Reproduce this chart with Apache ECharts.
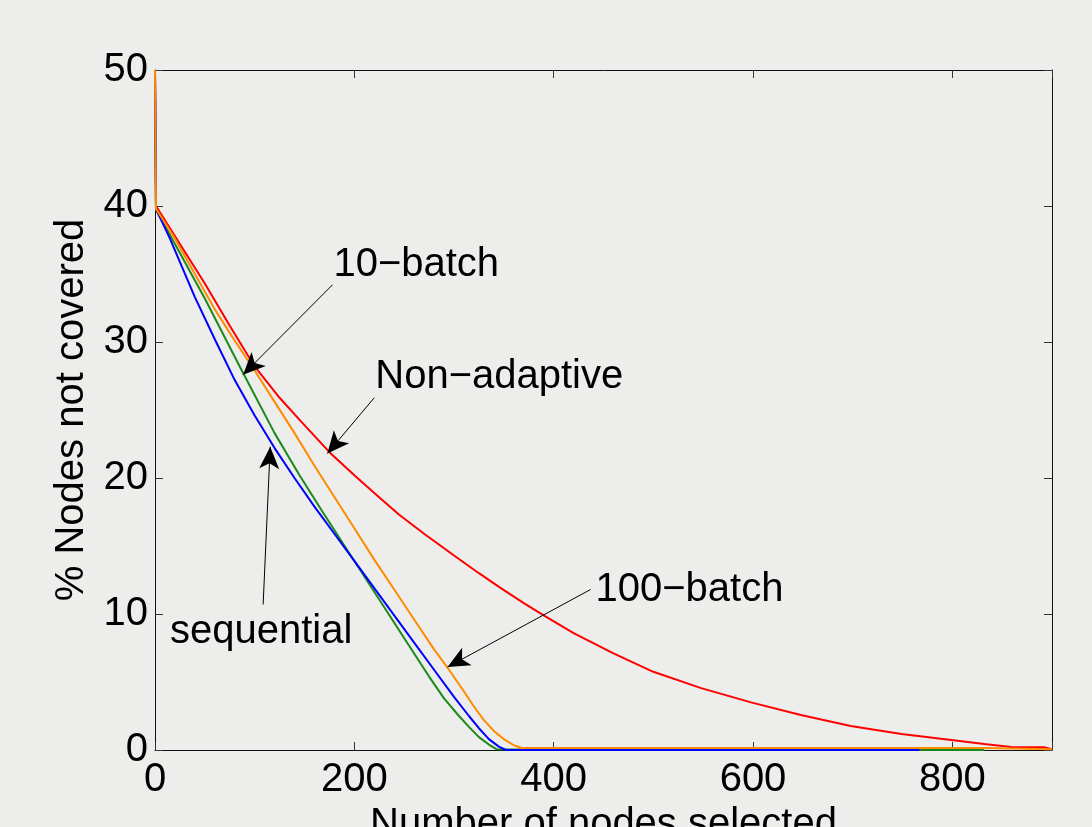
<!DOCTYPE html>
<html><head><meta charset="utf-8">
<script src="https://cdn.jsdelivr.net/npm/echarts@6/dist/echarts.min.js"></script>
<style>html,body{margin:0;padding:0;background:#ededeb}#c{width:1092px;height:827px}</style>
</head><body><div id="c"></div>
<script>
// ---- Data (x = number of nodes selected, y = % nodes not covered) ----
const xAxisTitle = 'Number of nodes selected';
const yAxisTitle = '% Nodes not covered';
const xTickLabels = [0, 200, 400, 600, 800];
const yTickLabels = [0, 10, 20, 30, 40, 50];

const nonAdaptiveData = [[0,50],[1,40],[25,37.2],[50,34.3],[75,31.2],[100,28.2],[125,25.9],[146,24.2],[175,21.9],[200,20.2],[220,18.9],[245,17.3],[270,15.9],[300,14.3],[325,13.0],[347,11.9],[370,10.8],[390,9.9],[420,8.6],[460,7.1],[500,5.75],[548,4.55],[598,3.5],[648,2.57],[698,1.76],[749,1.18],[799,0.74],[832,0.44],[859,0.22],[892,0.2],[900,0.05]];
const sequentialData = [[0,50],[1,39.8],[15,37.6],[40,33.3],[60,30.2],[80,27.2],[100,24.6],[120,22.2],[140,20.0],[160,17.9],[180,15.9],[200,13.9],[220,11.9],[240,9.9],[260,7.9],[280,5.9],[300,3.9],[315,2.5],[325,1.6],[335,0.8],[345,0.25],[352,0],[767,0]];
const batch10Data = [[0,50],[1,39.7],[20,37.2],[50,33.2],[85,28.2],[120,23.3],[145,20.2],[170,17.3],[200,13.9],[230,10.5],[260,7.1],[275,5.4],[290,3.8],[305,2.5],[315,1.7],[325,0.95],[335,0.4],[343,0.05],[345,0],[832,0]];
const batch100Data = [[0,50],[1,39.8],[20,37.6],[40,35.0],[60,32.4],[80,30.1],[100,27.9],[120,25.6],[140,23.3],[160,20.9],[180,18.6],[200,16.3],[220,14.0],[240,11.8],[260,9.6],[280,7.4],[295,5.9],[310,4.3],[320,3.2],[330,2.2],[340,1.4],[350,0.8],[360,0.35],[368,0.15],[832,0.15],[834,0.05],[900,0.05]];

// annotation texts: [x, y, text] (text left edge, vertical middle)
const annotationTexts = [[179,35.7,'10\u2212batch'],[221,27.4,'Non\u2212adaptive'],[15,8.7,'sequential'],[442,11.8,'100\u2212batch']];
// annotation arrows: [fromX, fromY, toX, toY]
const annotationArrows = [[178,34.2,88.4,27.6],[220,25.9,172.9,21.8],[108.5,10.7,115.6,22.3],[437,11.8,293.5,6.1]];

// ---- Chart ----
const FONT = 'Liberation Sans';
const chart = echarts.init(document.getElementById('c'), null, {renderer:'canvas'});
const axisCommon = {
  type:'value', axisLine:{show:true, onZero:false, lineStyle:{color:'#111', width:1}},
  axisTick:{show:true, inside:true, length:8, lineStyle:{color:'#333', width:1}},
  splitLine:{show:false}
};
const lineSeries = (name, data, color) => ({
  name, type:'line', data, symbol:'none', showSymbol:false, animation:false,
  lineStyle:{color, width:2}, itemStyle:{color}, z:3
});
const textLabel = {color:'#000', opacity:1, fontFamily:FONT, fontSize:40, lineHeight:40, textBorderWidth:0};
chart.setOption({
  backgroundColor:'#ededeb',
  animation:false,
  textStyle:{fontFamily:FONT},
  grid:{left:155, top:70, right:40, bottom:77, containLabel:false, outerBoundsMode:'none'},
  xAxis:[
    Object.assign({}, axisCommon, {position:'bottom', min:0, max:900, interval:200,
      axisLabel:Object.assign({show:true, inside:false, margin:10,
        formatter:v => xTickLabels.includes(v) ? String(v) : ''}, textLabel),
      name:xAxisTitle, nameLocation:'middle', nameGap:53,
      nameTextStyle:textLabel}),
    Object.assign({}, axisCommon, {position:'top', min:0, max:900, interval:200, axisLabel:{show:false}})
  ],
  yAxis:[
    Object.assign({}, axisCommon, {position:'left', min:0, max:50, interval:10,
      axisLabel:Object.assign({show:true, margin:7,
        formatter:v => yTickLabels.includes(v) ? String(v) : ''}, textLabel),
      name:yAxisTitle, nameLocation:'middle', nameGap:63, nameRotate:90,
      nameTextStyle:textLabel}),
    Object.assign({}, axisCommon, {position:'right', min:0, max:50, interval:10, axisLabel:{show:false}})
  ],
  series:[
    lineSeries('Non-adaptive', nonAdaptiveData, '#ff0000'),
    lineSeries('10-batch', batch10Data, '#1a8a1a'),
    lineSeries('sequential', sequentialData, '#0000ff'),
    lineSeries('100-batch', batch100Data, '#ff8c00'),
    {
      name:'annotations', type:'scatter', silent:true, animation:false, z:5,
      symbol:'circle', symbolSize:1, itemStyle:{color:'rgba(0,0,0,0)'},
      data: annotationTexts.map(a => ({value:[a[0], a[1]], label:Object.assign({formatter:a[2]}, textLabel)})),
      label:Object.assign({show:true, position:'inside', align:'left', verticalAlign:'middle'}, textLabel),
      markLine:{
        silent:true, animation:false, symbol:['none','arrow'], symbolSize:[15,22],
        label:{show:false}, lineStyle:{color:'#000', width:1, type:'solid'}, itemStyle:{color:'#000'},
        emphasis:{disabled:true},
        data: annotationArrows.map(a => [{coord:[a[0], a[1]]}, {coord:[a[2], a[3]]}])
      }
    }
  ]
});
</script></body></html>
